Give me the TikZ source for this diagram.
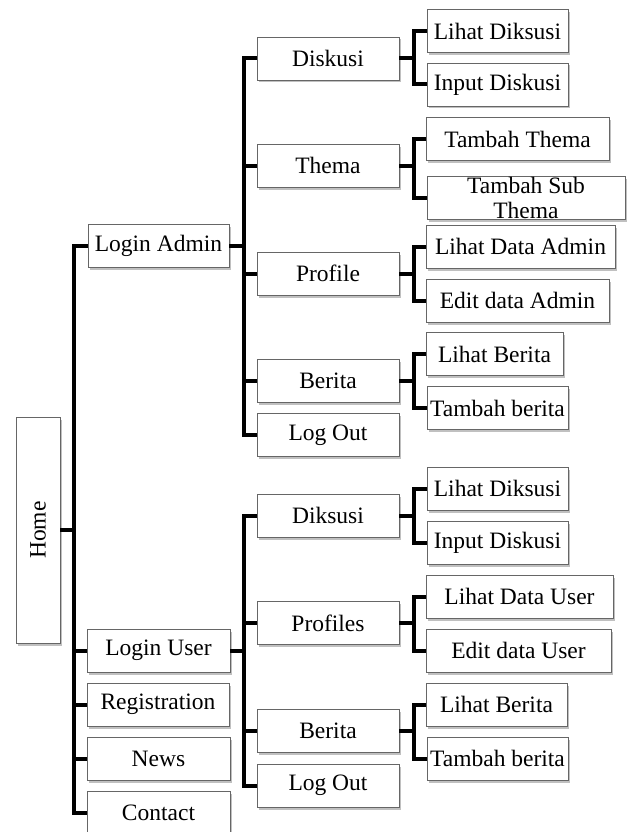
\documentclass[tikz,border=0pt]{standalone}
\usepackage{fontspec}
\setmainfont{Liberation Serif}
\usepackage{graphicx}
\usetikzlibrary{shadows,calc}
\tikzset{
  box/.style={draw=black!60, line width=0.8pt, fill=white, inner sep=0pt,
    minimum height=43pt, font=\fontsize{23.5}{25}\selectfont,
    drop shadow={shadow xshift=1.5pt, shadow yshift=-2.5pt, fill=black!45, opacity=0.55}},
  conn/.style={line width=4pt, draw=black, line join=miter},
}
\begin{document}
\begin{tikzpicture}[x=1pt,y=-1pt]
\useasboundingbox (0,0) rectangle (627,832);
\coordinate (T1) at (74,0);
\coordinate (T2) at (244,0);
\coordinate (T3) at (414,0);
% level 0
\node[box, minimum width=44pt, minimum height=226pt] (home) at (38,530) {\rotatebox{90}{Home}};
% level 1
\node[box, minimum width=141pt] (la) at (158.5,246) {Login Admin};
\node[box, minimum width=143pt] (lu) at (158.5,650.5) {Login User};
\node[box, minimum width=142pt] (reg) at (158,704.5) {Registration};
\node[box, minimum width=143pt] (news) at (158.5,758.5) {News};
\node[box, minimum width=143pt] (contact) at (158.5,812.5) {Contact};
% level 2 admin
\node[box, minimum width=142pt] (adisk) at (328,58.5) {Diskusi};
\node[box, minimum width=142pt] (athema) at (328,165.5) {Thema};
\node[box, minimum width=142pt] (aprof) at (328,273.5) {Profile};
\node[box, minimum width=142pt] (aber) at (328,380.5) {Berita};
\node[box, minimum width=142pt] (alog) at (328,435) {Log Out};
% level 2 user
\node[box, minimum width=142pt] (udisk) at (328,515.5) {Diksusi};
\node[box, minimum width=142pt] (uprof) at (328,623) {Profiles};
\node[box, minimum width=142pt] (uber) at (328,731) {Berita};
\node[box, minimum width=142pt] (ulog) at (328,785.5) {Log Out};
% level 3 admin
\node[box, minimum width=141pt] (alihd) at (497.5,31) {Lihat Diksusi};
\node[box, minimum width=141pt] (ainpd) at (497.5,84.5) {Input Diskusi};
\node[box, minimum width=183pt] (atamt) at (517.5,139) {Tambah Thema};
\node[box, minimum width=198pt, align=center, font=\fontsize{23.5}{25}\selectfont] (atams) at (526,197.5) {Tambah Sub\\Thema};
\node[box, minimum width=189pt] (alihda) at (520.5,246.5) {Lihat Data Admin};
\node[box, minimum width=183pt] (aedit) at (517.5,300.5) {Edit data Admin};
\node[box, minimum width=137pt] (alihb) at (494.5,354) {Lihat Berita};
\node[box, minimum width=141pt] (atamb) at (497.5,408) {Tambah berita};
% level 3 user
\node[box, minimum width=141pt] (ulihd) at (497.5,488.5) {Lihat Diksusi};
\node[box, minimum width=141pt] (uinpd) at (497.5,543) {Input Diskusi};
\node[box, minimum width=187pt] (ulihdu) at (519.5,596.5) {Lihat Data User};
\node[box, minimum width=185pt] (uedit) at (518.5,650.5) {Edit data User};
\node[box, minimum width=141pt] (ulihb) at (496.5,704.5) {Lihat Berita};
\node[box, minimum width=141pt] (utamb) at (497.5,758.5) {Tambah berita};
% connectors level 1
\draw[conn] (home.east) -- (home.east -| T1);
\draw[conn] (la.west) -- (la.west -| T1) |- (contact.west);
\draw[conn] (lu.west) -- (lu.west -| T1);
\draw[conn] (reg.west) -- (reg.west -| T1);
\draw[conn] (news.west) -- (news.west -| T1);
% connectors level 2 admin
\draw[conn] (la.east) -- (la.east -| T2);
\draw[conn] (adisk.west) -- (adisk.west -| T2) |- (alog.west);
\draw[conn] (athema.west) -- (athema.west -| T2);
\draw[conn] (aprof.west) -- (aprof.west -| T2);
\draw[conn] (aber.west) -- (aber.west -| T2);
% connectors level 2 user
\draw[conn] (lu.east) -- (lu.east -| T2);
\draw[conn] (udisk.west) -- (udisk.west -| T2) |- (ulog.west);
\draw[conn] (uprof.west) -- (uprof.west -| T2);
\draw[conn] (uber.west) -- (uber.west -| T2);
% connectors level 3
\foreach \p/\a/\b in {adisk/alihd/ainpd, athema/atamt/atams, aprof/alihda/aedit, aber/alihb/atamb,
                      udisk/ulihd/uinpd, uprof/ulihdu/uedit, uber/ulihb/utamb}{
  \draw[conn] (\p.east) -- (\p.east -| T3);
  \draw[conn] (\a.west) -- (\a.west -| T3) |- (\b.west);
}
\end{tikzpicture}
\end{document}
